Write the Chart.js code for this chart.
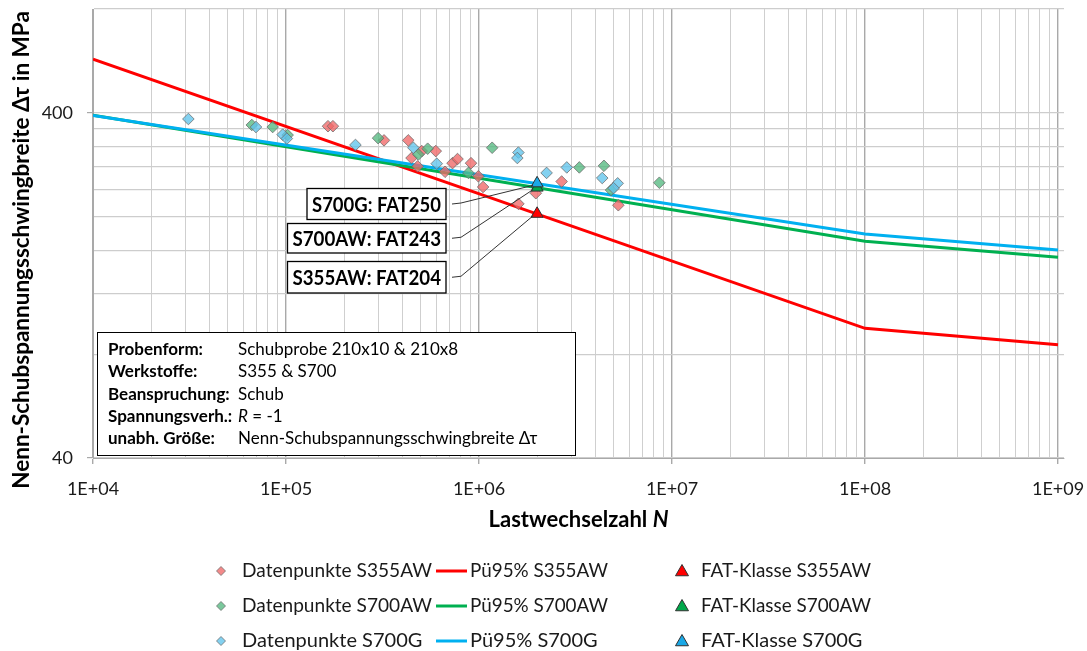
<!DOCTYPE html>
<html>
<head>
<meta charset="utf-8">
<title>Wöhlerlinien Schubprobe</title>
<script src="https://cdn.jsdelivr.net/npm/chart.js@4/dist/chart.umd.min.js"></script>
<style>
  html, body { margin: 0; padding: 0; background: #ffffff; }
  canvas { display: block; }
</style>
</head>
<body>
<canvas id="chart" width="1087" height="651"></canvas>
<script>
// ---- Versuchsdaten: Lastwechselzahl N und Nenn-Schubspannungsschwingbreite (MPa) ----
const s355N   = [1.65e5, 1.75e5, 3.22e5, 4.30e5, 4.47e5, 5.05e5, 5.97e5, 7.29e5, 7.74e5,
                 9.09e5, 1.05e6, 1.60e6, 1.97e6, 2.68e6, 5.27e6, 4.81e5, 6.67e5, 9.92e5];
const s355Tau = [366, 366, 333, 333, 296, 310, 310, 286, 294,
                 286, 244, 218, 234, 253, 216, 280, 270, 262];

const s700awN   = [6.65e4, 8.53e4, 1.02e5, 3.00e5, 5.42e5, 4.85e5, 8.81e5, 1.17e6,
                   3.31e6, 4.44e6, 8.60e6, 4.83e6];
const s700awTau = [369, 364, 345, 338, 315, 303, 268, 317, 278, 281, 251, 239];

const s700gN   = [3.12e4, 6.99e4, 9.61e4, 1.01e5, 2.29e5, 4.57e5, 6.04e5, 1.60e6,
                  1.58e6, 2.24e6, 2.85e6, 4.35e6, 5.23e6, 4.98e6];
const s700gTau = [384, 364, 346, 337, 323, 317, 285, 307, 296, 268, 278, 259, 250, 242];

// Pü95%-Wöhlerlinien (Stützstellen)
const lineN       = [1e4, 1e8, 1e9];
const p95S355AW   = [572, 95.0, 85.2];
const p95S700AW   = [394, 169.9, 152.7];
const p95S700G    = [393, 178.4, 160.3];

// FAT-Klassen bei 2·10^6 Lastwechseln
const fatN      = 2e6;
const fatValues = [204, 243, 250];           // S355AW, S700AW, S700G
const fatNames  = ['S355AW', 'S700AW', 'S700G'];

// Achsen
const xMajorTicks = [1e4, 1e5, 1e6, 1e7, 1e8, 1e9];
const xTickLabels = ['1E+04', '1E+05', '1E+06', '1E+07', '1E+08', '1E+09'];
const yMajorTicks = [40, 400];
const yTickLabels = ['40', '400'];
const yTickValues = [40, 80, 120, 160, 200, 240, 280, 320, 360, 400, 800];

// Versuchsrandbedingungen
const infoLabels = ['Probenform:', 'Werkstoffe:', 'Beanspruchung:', 'Spannungsverh.:', 'unabh. Größe:'];
const infoValues = ['Schubprobe 210x10 & 210x8', 'S355 & S700', 'Schub', 'R = -1',
                    'Nenn-Schubspannungsschwingbreite Δτ'];

// ---------------------------------------------------------------------------
const FONT = 'Lato, "Open Sans", "DejaVu Sans", sans-serif';
const X_MIN = 1e4, X_MAX = 1.074e9, Y_MIN = 40, Y_MAX = 800;

const xTickValues = [];
for (let e = 4; e <= 8; e++) for (let k = 1; k <= 9; k++) xTickValues.push(k * Math.pow(10, e));
xTickValues.push(1e9);

const isDecade = v => Math.abs(Math.log10(v) - Math.round(Math.log10(v))) < 1e-9;
const toXY = (xs, ys) => xs.map((x, i) => ({ x: x, y: ys[i] }));

const COLORS = {
  s355: { line: '#ff0000', point: 'rgba(239,104,104,0.78)', tri: '#ff0000' },
  s700aw: { line: '#00b050', point: 'rgba(84,184,128,0.78)', tri: '#00a84a' },
  s700g: { line: '#00b0f0', point: 'rgba(96,196,236,0.78)', tri: '#1aa8e6' }
};

function pointSet(label, xs, ys, color, order) {
  return {
    label, data: toXY(xs, ys), order,
    pointStyle: 'rectRot', pointRadius: 5.8, pointHoverRadius: 5.8,
    backgroundColor: color, borderColor: 'rgba(105,105,105,0.75)', borderWidth: 1
  };
}
function lineSet(label, ys, color, order) {
  return {
    label, data: toXY(lineN, ys), order, showLine: true,
    borderColor: color, borderWidth: 3, pointRadius: 0, pointHoverRadius: 0, tension: 0,
    backgroundColor: color
  };
}
function fatSet(idx, color, order) {
  return {
    label: 'FAT-Klasse ' + fatNames[idx], data: [{ x: fatN, y: fatValues[idx] }], order,
    pointStyle: 'triangle', pointRadius: 7, pointHoverRadius: 7,
    backgroundColor: color, borderColor: '#303030', borderWidth: 1
  };
}

const datasets = [
  pointSet('Datenpunkte S355AW', s355N, s355Tau, COLORS.s355.point, 1.2),
  pointSet('Datenpunkte S700AW', s700awN, s700awTau, COLORS.s700aw.point, 1.1),
  pointSet('Datenpunkte S700G', s700gN, s700gTau, COLORS.s700g.point, 1.0),
  lineSet('Pü95% S355AW', p95S355AW, COLORS.s355.line, 2.2),
  lineSet('Pü95% S700AW', p95S700AW, COLORS.s700aw.line, 2.1),
  lineSet('Pü95% S700G', p95S700G, COLORS.s700g.line, 2.0),
  fatSet(0, COLORS.s355.tri, 0.2),
  fatSet(1, COLORS.s700aw.tri, 0.1),
  fatSet(2, COLORS.s700g.tri, 0.0)
];

// ---- Zeichenhilfen ----
function diamond(ctx, x, y, r, fill, stroke) {
  ctx.beginPath();
  ctx.moveTo(x, y - r); ctx.lineTo(x + r, y); ctx.lineTo(x, y + r); ctx.lineTo(x - r, y);
  ctx.closePath();
  ctx.fillStyle = fill; ctx.fill();
  ctx.strokeStyle = stroke; ctx.lineWidth = 1; ctx.stroke();
}
function triangle(ctx, x, y, r, fill, stroke) {
  const h = r * 1.5, w = r * Math.sqrt(3);
  ctx.beginPath();
  ctx.moveTo(x, y - r); ctx.lineTo(x + w / 2, y - r + h); ctx.lineTo(x - w / 2, y - r + h);
  ctx.closePath();
  ctx.fillStyle = fill; ctx.fill();
  ctx.strokeStyle = stroke; ctx.lineWidth = 1; ctx.stroke();
}
// Text, der bei Bedarf horizontal auf eine Breite gestaucht wird
function fitText(ctx, text, x, y, maxW) {
  const w = ctx.measureText(text).width;
  if (w <= maxW) { ctx.fillText(text, x, y); return; }
  const k = maxW / w;
  ctx.save();
  ctx.translate(x, y);
  ctx.scale(k, 1);
  ctx.fillText(text, 0, 0);
  ctx.restore();
}

// Achsenbeschriftung, Achsentitel, Beschriftungskästen, Infobox und Legende
const decorPlugin = {
  id: 'decor',
  afterDatasetsDraw(chart) {
    const ctx = chart.ctx;
    // Beschriftungskästen der FAT-Klassen mit Hinweislinien
    const boxes = [
      { ds: 8, text: 'S700G: FAT250',  x: 307,   y: 188.5, w: 139,   h: 31 },
      { ds: 7, text: 'S700AW: FAT243', x: 287.5, y: 223.5, w: 158.5, h: 29.5 },
      { ds: 6, text: 'S355AW: FAT204', x: 287.5, y: 261.5, w: 158.5, h: 31.5 }
    ];
    ctx.save();
    boxes.forEach(b => {
      const pt = chart.getDatasetMeta(b.ds).data[0];
      const sy = b.y + b.h / 2;
      ctx.beginPath();
      ctx.moveTo(b.x + b.w + 6, sy);
      ctx.lineTo(b.x + b.w + 15, sy - 1);
      ctx.lineTo(pt.x - 4, pt.y + 2);
      ctx.strokeStyle = '#333333'; ctx.lineWidth = 1; ctx.stroke();
    });
    boxes.forEach(b => {
      ctx.fillStyle = '#ffffff';
      ctx.fillRect(b.x, b.y, b.w, b.h);
      ctx.strokeStyle = '#000000'; ctx.lineWidth = 1.3;
      ctx.strokeRect(b.x, b.y, b.w, b.h);
      ctx.font = 'bold 21px ' + FONT;
      ctx.fillStyle = '#000000';
      ctx.textAlign = 'center'; ctx.textBaseline = 'middle';
      fitText(ctx, b.text, b.x + b.w / 2, b.y + b.h / 2 + 1, b.w - 10);
    });
    ctx.restore();
  },
  afterDraw(chart) {
    const ctx = chart.ctx;
    const area = chart.chartArea;
    const xs = chart.scales.x, ys = chart.scales.y;
    ctx.save();

    // Achsenbeschriftungen
    ctx.fillStyle = '#1a1a1a';
    ctx.font = '18px ' + FONT;
    ctx.textAlign = 'center'; ctx.textBaseline = 'middle';
    xMajorTicks.forEach((v, i) => ctx.fillText(xTickLabels[i], xs.getPixelForValue(v), 489));
    ctx.textAlign = 'right';
    yMajorTicks.forEach((v, i) => ctx.fillText(yTickLabels[i], 73, ys.getPixelForValue(v)));

    // Y-Achsentitel
    ctx.save();
    ctx.translate(22, 250);
    ctx.rotate(-Math.PI / 2);
    ctx.font = 'bold 22.5px ' + FONT;
    ctx.fillStyle = '#000000';
    ctx.textAlign = 'center'; ctx.textBaseline = 'middle';
    ctx.fillText('Nenn-Schubspannungsschwingbreite Δτ in MPa', 0, 0);
    ctx.restore();

    // X-Achsentitel (N kursiv)
    const t1 = 'Lastwechselzahl ', t2 = 'N';
    ctx.font = 'bold 22px ' + FONT;
    const w1 = ctx.measureText(t1).width;
    ctx.font = 'italic bold 22px ' + FONT;
    const w2 = ctx.measureText(t2).width;
    const cx = (area.left + area.right) / 2;
    const tx = cx - (w1 + w2) / 2;
    ctx.fillStyle = '#000000'; ctx.textAlign = 'left'; ctx.textBaseline = 'middle';
    ctx.font = 'bold 22px ' + FONT;
    ctx.fillText(t1, tx, 520);
    ctx.font = 'italic bold 22px ' + FONT;
    ctx.fillText(t2, tx + w1, 520);

    // Infobox
    ctx.fillStyle = '#ffffff';
    ctx.fillRect(97.5, 332.5, 478, 123);
    ctx.strokeStyle = '#000000'; ctx.lineWidth = 1;
    ctx.strokeRect(97.5, 332.5, 478, 123);
    const baselines = [355, 377.3, 399.6, 421.9, 444.2];
    ctx.textBaseline = 'alphabetic'; ctx.textAlign = 'left';
    infoLabels.forEach((lab, i) => {
      ctx.font = 'bold 17px ' + FONT;
      ctx.fillStyle = '#000000';
      fitText(ctx, lab, 108, baselines[i], 128);
      const val = infoValues[i];
      if (val.startsWith('R ')) {
        ctx.font = 'italic 17px ' + FONT;
        ctx.fillText('R', 238, baselines[i]);
        const rw = ctx.measureText('R').width;
        ctx.font = '17px ' + FONT;
        ctx.fillText(val.slice(1), 238 + rw, baselines[i]);
      } else {
        ctx.font = '17px ' + FONT;
        ctx.fillText(val, 238, baselines[i]);
      }
    });

    // Legende (3 Spalten x 3 Zeilen)
    const rows = [571, 606, 641];
    ctx.font = '20px ' + FONT;
    ctx.textBaseline = 'middle'; ctx.textAlign = 'left';
    for (let r = 0; r < 3; r++) {
      const y = rows[r];
      const pDs = datasets[r], lDs = datasets[3 + r], fDs = datasets[6 + r];
      diamond(ctx, 221, y, 4.5, pDs.backgroundColor, pDs.borderColor);
      ctx.fillStyle = '#1a1a1a';
      fitText(ctx, pDs.label, 242, y, 190);
      ctx.beginPath();
      ctx.moveTo(436, y); ctx.lineTo(467, y);
      ctx.strokeStyle = lDs.borderColor; ctx.lineWidth = 3; ctx.stroke();
      ctx.fillStyle = '#1a1a1a';
      fitText(ctx, lDs.label, 470, y, 138);
      triangle(ctx, 682, y + 1, 7.5, fDs.backgroundColor, fDs.borderColor);
      ctx.fillStyle = '#1a1a1a';
      fitText(ctx, fDs.label, 701, y, 170);
    }
    ctx.restore();
  }
};

new Chart(document.getElementById('chart'), {
  type: 'scatter',
  data: { datasets },
  options: {
    responsive: false,
    animation: false,
    devicePixelRatio: 1,
    events: [],
    layout: { padding: { top: 9, right: 23, left: 0, bottom: 0 } },
    plugins: { legend: { display: false }, tooltip: { enabled: false } },
    scales: {
      x: {
        type: 'logarithmic', position: 'bottom', min: X_MIN, max: X_MAX,
        afterBuildTicks: s => { s.ticks = xTickValues.map(v => ({ value: v })); },
        afterFit: s => { s.height = 193; s.paddingLeft = 0; s.paddingRight = 0; },
        ticks: { display: false, autoSkip: false, maxRotation: 0, minRotation: 0 },
        grid: {
          color: c => isDecade(c.tick.value) ? '#a9a9a9' : '#cfcfcf',
          lineWidth: c => isDecade(c.tick.value) ? 1.4 : 1,
          tickLength: 6,
          tickColor: c => isDecade(c.tick.value) ? '#a9a9a9' : 'rgba(0,0,0,0)'
        },
        border: { color: '#a9a9a9', width: 1 }
      },
      y: {
        type: 'logarithmic', position: 'left', min: Y_MIN, max: Y_MAX,
        afterBuildTicks: s => { s.ticks = yTickValues.map(v => ({ value: v })); },
        afterFit: s => { s.width = 93; s.paddingTop = 0; s.paddingBottom = 0; },
        ticks: { display: false, autoSkip: false },
        grid: {
          color: '#cdcdcd',
          lineWidth: 1.2,
          tickLength: 6,
          tickColor: c => yMajorTicks.includes(c.tick.value) ? '#a9a9a9' : 'rgba(0,0,0,0)'
        },
        border: { color: '#a9a9a9', width: 1 }
      }
    }
  },
  plugins: [decorPlugin]
});
</script>
</body>
</html>
